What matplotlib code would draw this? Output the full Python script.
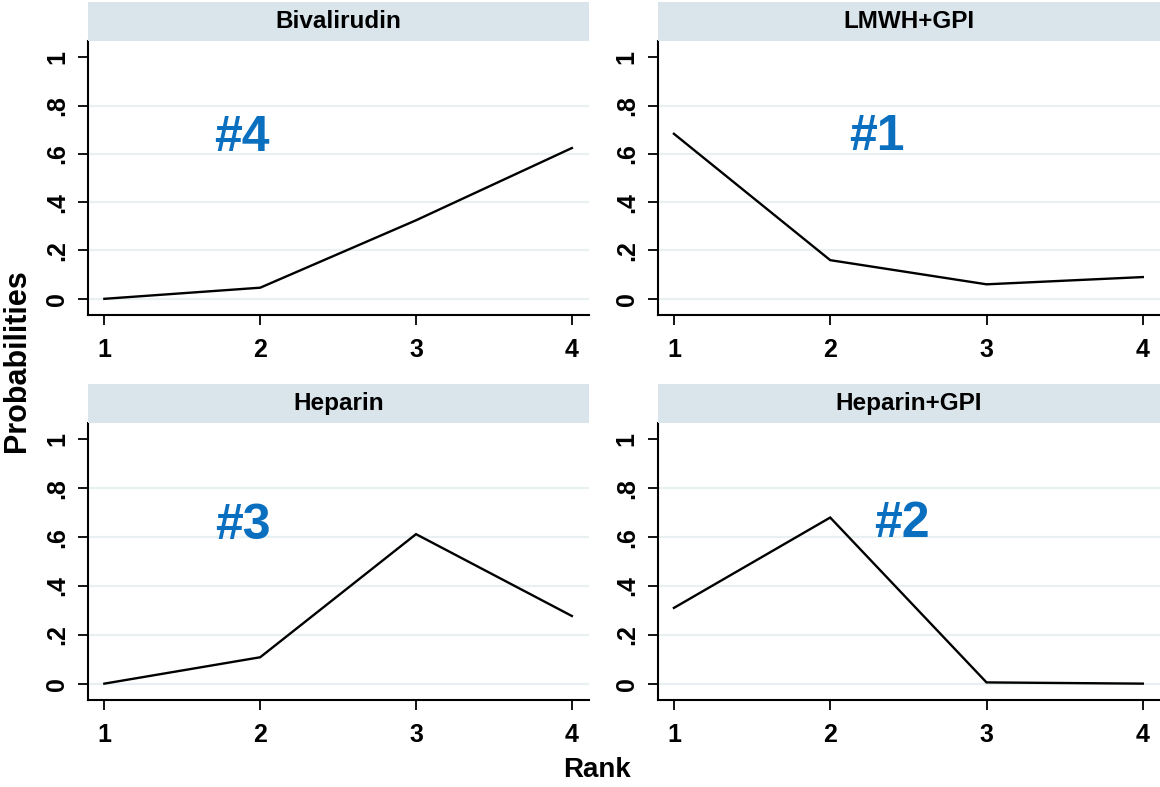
import matplotlib
matplotlib.use("Agg")
import matplotlib.pyplot as plt
from matplotlib.patches import Rectangle

# Rank probabilities for each treatment
ranks = [1, 2, 3, 4]
treatments = ["Bivalirudin", "LMWH+GPI", "Heparin", "Heparin+GPI"]
prob_bivalirudin = [0.0, 0.046, 0.325, 0.624]
prob_lmwh_gpi = [0.683, 0.16, 0.06, 0.09]
prob_heparin = [0.0, 0.108, 0.612, 0.277]
prob_heparin_gpi = [0.31, 0.68, 0.005, 0.0]
rank_labels = ["#4", "#1", "#3", "#2"]
label_x = [1.88, 2.30, 1.89, 2.46]
label_y = [0.61, 0.616, 0.593, 0.602]

series = [prob_bivalirudin, prob_lmwh_gpi, prob_heparin, prob_heparin_gpi]
yticks = [0, 0.2, 0.4, 0.6, 0.8, 1.0]
ytick_labels = ["0", ".2", ".4", ".6", ".8", "1"]

plt.rcParams["font.family"] = ["Liberation Sans", "DejaVu Sans"]

W, H = 1160, 787
fig = plt.figure(figsize=(W / 100, H / 100), dpi=100)

# panel boxes in pixels: (left, right, top, bottom)
panels = [(88, 589, 41, 315), (657.5, 1160, 41, 315),
          (88, 589, 423, 700), (657.5, 1160, 423, 700)]
strip_h = 39

strip_color = "#d9e5eb"
grid_color = "#e8f0f2"
blue = "#0b6fc0"

for i, (l, r, t, b) in enumerate(panels):
    ax = fig.add_axes([l / W, 1 - b / H, (r - l) / W, (b - t) / H])
    ax.plot(ranks, series[i], color="black", lw=1.7, solid_joinstyle="miter")
    ax.set_xlim(0.895, 4.11)
    ax.set_ylim(-0.067, 1.067)
    for g in yticks[:-1]:
        ax.axhline(g, color=grid_color, lw=1.6, zorder=0)
    ax.set_xticks(ranks)
    ax.set_xticklabels([str(v) for v in ranks], fontsize=18, fontweight="bold")
    ax.set_yticks(yticks)
    ax.set_yticklabels(ytick_labels, fontsize=18, fontweight="bold",
                       rotation=90, va="center")
    ax.tick_params(axis="x", length=7.5, width=1.3, pad=9)
    ax.tick_params(axis="y", length=7.5, width=1.3, pad=6)
    for s in ["top", "right"]:
        ax.spines[s].set_visible(False)
    for s in ["left", "bottom"]:
        ax.spines[s].set_linewidth(1.5)
    ax.text(label_x[i], label_y[i], rank_labels[i], color=blue,
            fontsize=36, fontweight="bold", ha="center", va="baseline")

    # header strip with panel title
    fig.patches.append(Rectangle((l / W, 1 - t / H), (r - l) / W, strip_h / H,
                                 transform=fig.transFigure, facecolor=strip_color,
                                 edgecolor="none"))
    fig.text((l + r) / 2 / W, 1 - (t - strip_h / 2) / H, treatments[i],
             ha="center", va="center", fontsize=17.5, fontweight="bold")

fig.text(597 / W, 1 - 770 / H, "Rank", ha="center", va="center",
         fontsize=20, fontweight="bold")
fig.text(17 / W, 1 - 361 / H, "Probabilities", ha="center", va="center",
         rotation=90, fontsize=22, fontweight="bold")

fig.savefig("out.png", dpi=100, facecolor="white")
